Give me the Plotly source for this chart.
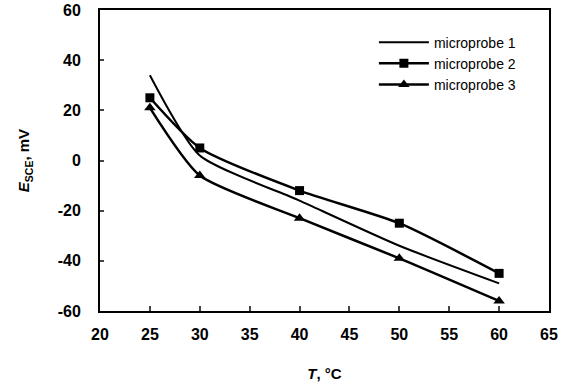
import plotly.graph_objects as go

T = [25, 30, 40, 50, 60]
probe1 = [34, 2, -16, -34, -49]
probe2 = [25, 5, -12, -25, -45]
probe3 = [21, -6, -23, -39, -56]

x_ticks = [20, 25, 30, 35, 40, 45, 50, 55, 60, 65]
x_labels = ["20", "25", "30", "35", "40", "45", "50", "55", "60", "65"]
y_ticks = [-60, -40, -20, 0, 20, 40, 60]
y_labels = ["-60", "-40", "-20", "0", "20", "40", "60"]

fig = go.Figure()
fig.add_trace(go.Scatter(x=T, y=probe1, name="microprobe 1", mode="lines",
                         line=dict(color="black", width=2, shape="spline", smoothing=0.6)))
fig.add_trace(go.Scatter(x=T, y=probe2, name="microprobe 2", mode="lines+markers",
                         line=dict(color="black", width=2.5, shape="spline", smoothing=0.6),
                         marker=dict(symbol="square", size=9, color="black")))
fig.add_trace(go.Scatter(x=T, y=probe3, name="microprobe 3", mode="lines+markers",
                         line=dict(color="black", width=2.5, shape="spline", smoothing=0.6),
                         marker=dict(symbol="triangle-up", size=10, color="black")))

tickfont = dict(family="Liberation Sans, Arial", size=16, color="black", weight="bold")
titlefont = dict(family="Liberation Sans, Arial", size=15, color="black", weight="bold")
fig.update_layout(
    width=569, height=387,
    margin=dict(l=100, r=20, t=10, b=76),
    paper_bgcolor="white", plot_bgcolor="white",
    font=dict(family="Liberation Sans, Arial", size=14, color="black"),
    showlegend=True,
    legend=dict(x=0.61, y=0.945, xanchor="left", yanchor="top",
                bgcolor="rgba(0,0,0,0)",
                font=dict(family="Liberation Sans, Arial", size=14, color="black"),
                tracegroupgap=0, itemwidth=50),
    xaxis=dict(range=[20, 65], tickvals=x_ticks, ticktext=x_labels, ticks="inside", ticklen=5, tickwidth=2,
               showline=True, linecolor="black", linewidth=2, mirror=True, showgrid=False,
               zeroline=False, tickfont=tickfont, ticklabelstandoff=8, automargin=False,
               title=dict(text="<i>T</i>, °C", standoff=26, font=titlefont)),
    yaxis=dict(range=[-60, 60], tickvals=y_ticks, ticktext=y_labels, ticks="inside", ticklen=4, tickwidth=2,
               showline=True, linecolor="black", linewidth=2, mirror=True, showgrid=False,
               zeroline=False, ticklabelstandoff=14, tickfont=tickfont, automargin=False,
               title=dict(text="<i>E</i><sub>SCE</sub>, mV", standoff=24, font=titlefont)),
)

fig.write_html("out.html")
